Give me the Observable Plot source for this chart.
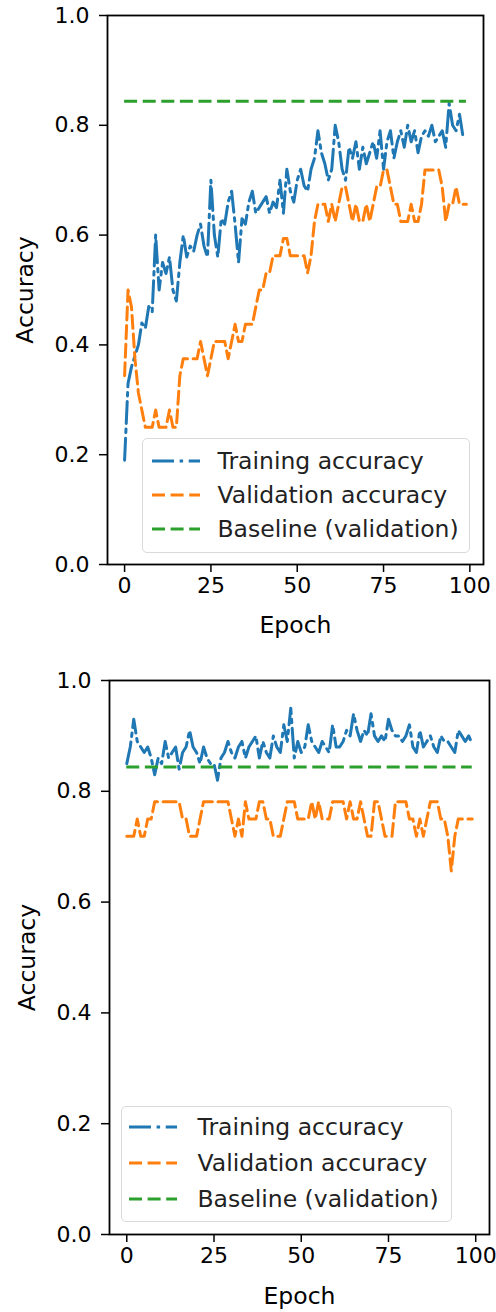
<!DOCTYPE html>
<html>
<head>
<meta charset="utf-8">
<script src="https://cdn.jsdelivr.net/npm/d3@7"></script>
<script src="https://cdn.jsdelivr.net/npm/@observablehq/plot@0.6"></script>
<style>
  html, body { margin: 0; padding: 0; background: #fff; }
  #page { position: relative; width: 496px; height: 1312px; overflow: hidden; font-family: "DejaVu Sans", sans-serif; }
  .panel { position: absolute; left: 0; width: 496px; height: 656px; }
  .legend { position: absolute; box-sizing: border-box; border: 1.5px solid #dadada; border-radius: 5px; background: rgba(255,255,255,0.85); }
  .legend .row { position: absolute; left: 0; height: 30px; display: flex; align-items: center; font-size: 23.5px; color: #222; white-space: nowrap; }
  .legend svg { display: block; }
  .panel svg g[aria-label="x-axis label"] text, .panel svg g[aria-label="y-axis label"] text { font-size: 23.5px; }
</style>
</head>
<body>
<div id="page"></div>
<script>
// ---------- data ----------
const epochs = d3.range(100);
const xTicks = [0, 25, 50, 75, 100];
const yTicks = [0, 0.2, 0.4, 0.6, 0.8, 1.0];
const seriesNames = ["Training accuracy", "Validation accuracy", "Baseline (validation)"];
const baselineAcc = 0.84375;

const trainAcc1 = [
  0.19,0.33,0.36,0.38,0.40,0.44,0.43,0.47,0.46,0.60,
  0.50,0.55,0.53,0.56,0.50,0.48,0.55,0.60,0.56,0.58,
  0.57,0.60,0.62,0.58,0.56,0.70,0.60,0.56,0.63,0.62,
  0.66,0.68,0.62,0.55,0.63,0.62,0.66,0.68,0.64,0.65,
  0.66,0.67,0.64,0.66,0.65,0.70,0.64,0.72,0.68,0.66,
  0.70,0.72,0.69,0.68,0.72,0.74,0.79,0.75,0.73,0.70,
  0.72,0.80,0.77,0.72,0.70,0.76,0.74,0.77,0.72,0.76,
  0.73,0.75,0.77,0.74,0.79,0.72,0.77,0.79,0.74,0.77,
  0.79,0.76,0.80,0.77,0.79,0.75,0.78,0.79,0.78,0.80,
  0.77,0.78,0.79,0.76,0.84,0.80,0.79,0.82,0.78,0.78
];
const valAcc1 = [
  0.34375,0.5,0.46875,0.375,0.3125,0.28125,0.25,0.25,0.25,0.28125,
  0.25,0.25,0.25,0.28125,0.25,0.25,0.34375,0.375,0.375,0.375,
  0.375,0.375,0.40625,0.375,0.34375,0.375,0.40625,0.40625,0.40625,0.40625,
  0.375,0.40625,0.4375,0.40625,0.40625,0.4375,0.4375,0.4375,0.46875,0.5,
  0.5,0.53125,0.53125,0.5625,0.5625,0.5625,0.59375,0.59375,0.5625,0.5625,
  0.5625,0.5625,0.5625,0.53125,0.5625,0.625,0.65625,0.65625,0.65625,0.625,
  0.65625,0.625,0.65625,0.6875,0.6875,0.65625,0.625,0.65625,0.625,0.625,
  0.65625,0.625,0.65625,0.6875,0.6875,0.71875,0.71875,0.6875,0.65625,0.65625,
  0.625,0.625,0.625,0.65625,0.625,0.625,0.65625,0.71875,0.71875,0.71875,
  0.71875,0.71875,0.6875,0.625,0.65625,0.65625,0.6875,0.65625,0.65625,0.65625
];
const trainAcc2 = [
  0.85,0.88,0.93,0.89,0.88,0.87,0.88,0.86,0.83,0.86,
  0.85,0.89,0.86,0.87,0.88,0.84,0.87,0.88,0.91,0.88,
  0.87,0.85,0.88,0.86,0.85,0.85,0.82,0.86,0.87,0.89,
  0.87,0.86,0.88,0.89,0.86,0.88,0.89,0.90,0.86,0.89,
  0.87,0.86,0.90,0.88,0.87,0.92,0.89,0.95,0.86,0.89,
  0.87,0.88,0.92,0.89,0.88,0.87,0.89,0.88,0.87,0.92,
  0.88,0.88,0.89,0.91,0.90,0.94,0.91,0.89,0.91,0.90,
  0.94,0.90,0.89,0.90,0.89,0.93,0.91,0.90,0.90,0.89,
  0.90,0.92,0.88,0.87,0.91,0.88,0.89,0.90,0.88,0.87,
  0.90,0.89,0.89,0.88,0.87,0.91,0.90,0.89,0.90,0.885
];
const valAcc2 = [
  0.71875,0.71875,0.71875,0.75,0.71875,0.71875,0.75,0.75,0.78125,0.78125,
  0.78125,0.78125,0.78125,0.78125,0.78125,0.78125,0.75,0.75,0.71875,0.71875,
  0.71875,0.75,0.78125,0.78125,0.78125,0.78125,0.78125,0.78125,0.78125,0.78125,
  0.75,0.71875,0.75,0.71875,0.78125,0.75,0.75,0.75,0.78125,0.78125,
  0.75,0.75,0.71875,0.71875,0.71875,0.75,0.78125,0.78125,0.78125,0.75,
  0.75,0.75,0.75,0.78125,0.75,0.78125,0.75,0.75,0.75,0.78125,
  0.78125,0.78125,0.78125,0.75,0.78125,0.75,0.75,0.78125,0.75,0.71875,
  0.71875,0.78125,0.78125,0.75,0.71875,0.71875,0.71875,0.78125,0.78125,0.78125,
  0.78125,0.75,0.75,0.71875,0.75,0.71875,0.75,0.78125,0.78125,0.78125,
  0.75,0.75,0.71875,0.65625,0.71875,0.75,0.75,0.75,0.75,0.75
];

// ---------- styles ----------
const colors = ["#1f77b4", "#ff7f0e", "#2ca02c"];
const dashes = ["22,5.6,3.5,5.6", "13,5.6", "13,5.6"];
const lw = 3;

function makePlot(train, val, m) {
  return Plot.plot({
    width: 496, height: 656,
    marginTop: m.top, marginBottom: m.bottom, marginLeft: m.left, marginRight: m.right,
    style: { fontFamily: "DejaVu Sans", fontSize: "22px", color: "#000", background: "transparent", overflow: "visible" },
    x: { domain: [-4.95, 103.95] },
    y: { domain: [0, 1] },
    marks: [
      Plot.axisX({ ticks: xTicks, tickSize: 8, tickPadding: 5, tickFormat: d3.format("d"),
        label: "Epoch", labelAnchor: "center", labelArrow: "none", labelOffset: m.xlab, strokeWidth: 1.5 }),
      Plot.axisY({ ticks: yTicks, tickSize: 8, tickPadding: 10, tickFormat: d3.format(".1f"),
        label: "Accuracy", labelAnchor: "center", labelArrow: "none", labelOffset: 91, strokeWidth: 1.5 }),
      Plot.line(train, { x: epochs, y: train, stroke: colors[0], strokeWidth: lw, strokeDasharray: dashes[0], strokeLinejoin: "round" }),
      Plot.line(val, { x: epochs, y: val, stroke: colors[1], strokeWidth: lw, strokeDasharray: dashes[1], strokeLinejoin: "round" }),
      Plot.ruleY([baselineAcc], { x1: epochs[0], x2: epochs[epochs.length - 1], stroke: colors[2], strokeWidth: lw, strokeDasharray: dashes[2] }),
      Plot.frame({ stroke: "#000", strokeWidth: 1.8 })
    ]
  });
}

function makeLegend(box) {
  const lg = document.createElement("div");
  lg.className = "legend";
  Object.assign(lg.style, { left: box.x + "px", top: box.y + "px", width: box.w + "px", height: box.h + "px" });
  seriesNames.forEach((name, i) => {
    const row = document.createElement("div");
    row.className = "row";
    row.style.top = (box.rows[i] - box.y - 15) + "px";
    row.style.left = (box.sx - box.x - 1.5) + "px";
    const ns = "http://www.w3.org/2000/svg";
    const s = document.createElementNS(ns, "svg");
    s.setAttribute("width", 48); s.setAttribute("height", 10);
    const l = document.createElementNS(ns, "line");
    l.setAttribute("x1", 0); l.setAttribute("x2", 48); l.setAttribute("y1", 5); l.setAttribute("y2", 5);
    l.setAttribute("stroke", colors[i]); l.setAttribute("stroke-width", lw);
    l.setAttribute("stroke-dasharray", dashes[i]);
    s.appendChild(l);
    row.appendChild(s);
    const t = document.createElement("span");
    t.textContent = name;
    t.style.marginLeft = (box.tx - box.sx - 48) + "px";
    row.appendChild(t);
    lg.appendChild(row);
  });
  return lg;
}

const page = document.getElementById("page");
const p1 = document.createElement("div"); p1.className = "panel"; p1.style.top = "0px";
const p2 = document.createElement("div"); p2.className = "panel"; p2.style.top = "656px";
p1.appendChild(makePlot(trainAcc1, valAcc1, { top: 15, bottom: 92, left: 107, right: 13, xlab: 68 }));
p2.appendChild(makePlot(trainAcc2, valAcc2, { top: 24, bottom: 78, left: 109, right: 7, xlab: 69 }));
page.appendChild(p1); page.appendChild(p2);
page.appendChild(makeLegend({ x: 142, y: 438, w: 328, h: 115, rows: [460, 494, 528], sx: 152, tx: 218 }));
page.appendChild(makeLegend({ x: 121, y: 1106, w: 331, h: 116, rows: [1126, 1162, 1198], sx: 129, tx: 198 }));
</script>
</body>
</html>
